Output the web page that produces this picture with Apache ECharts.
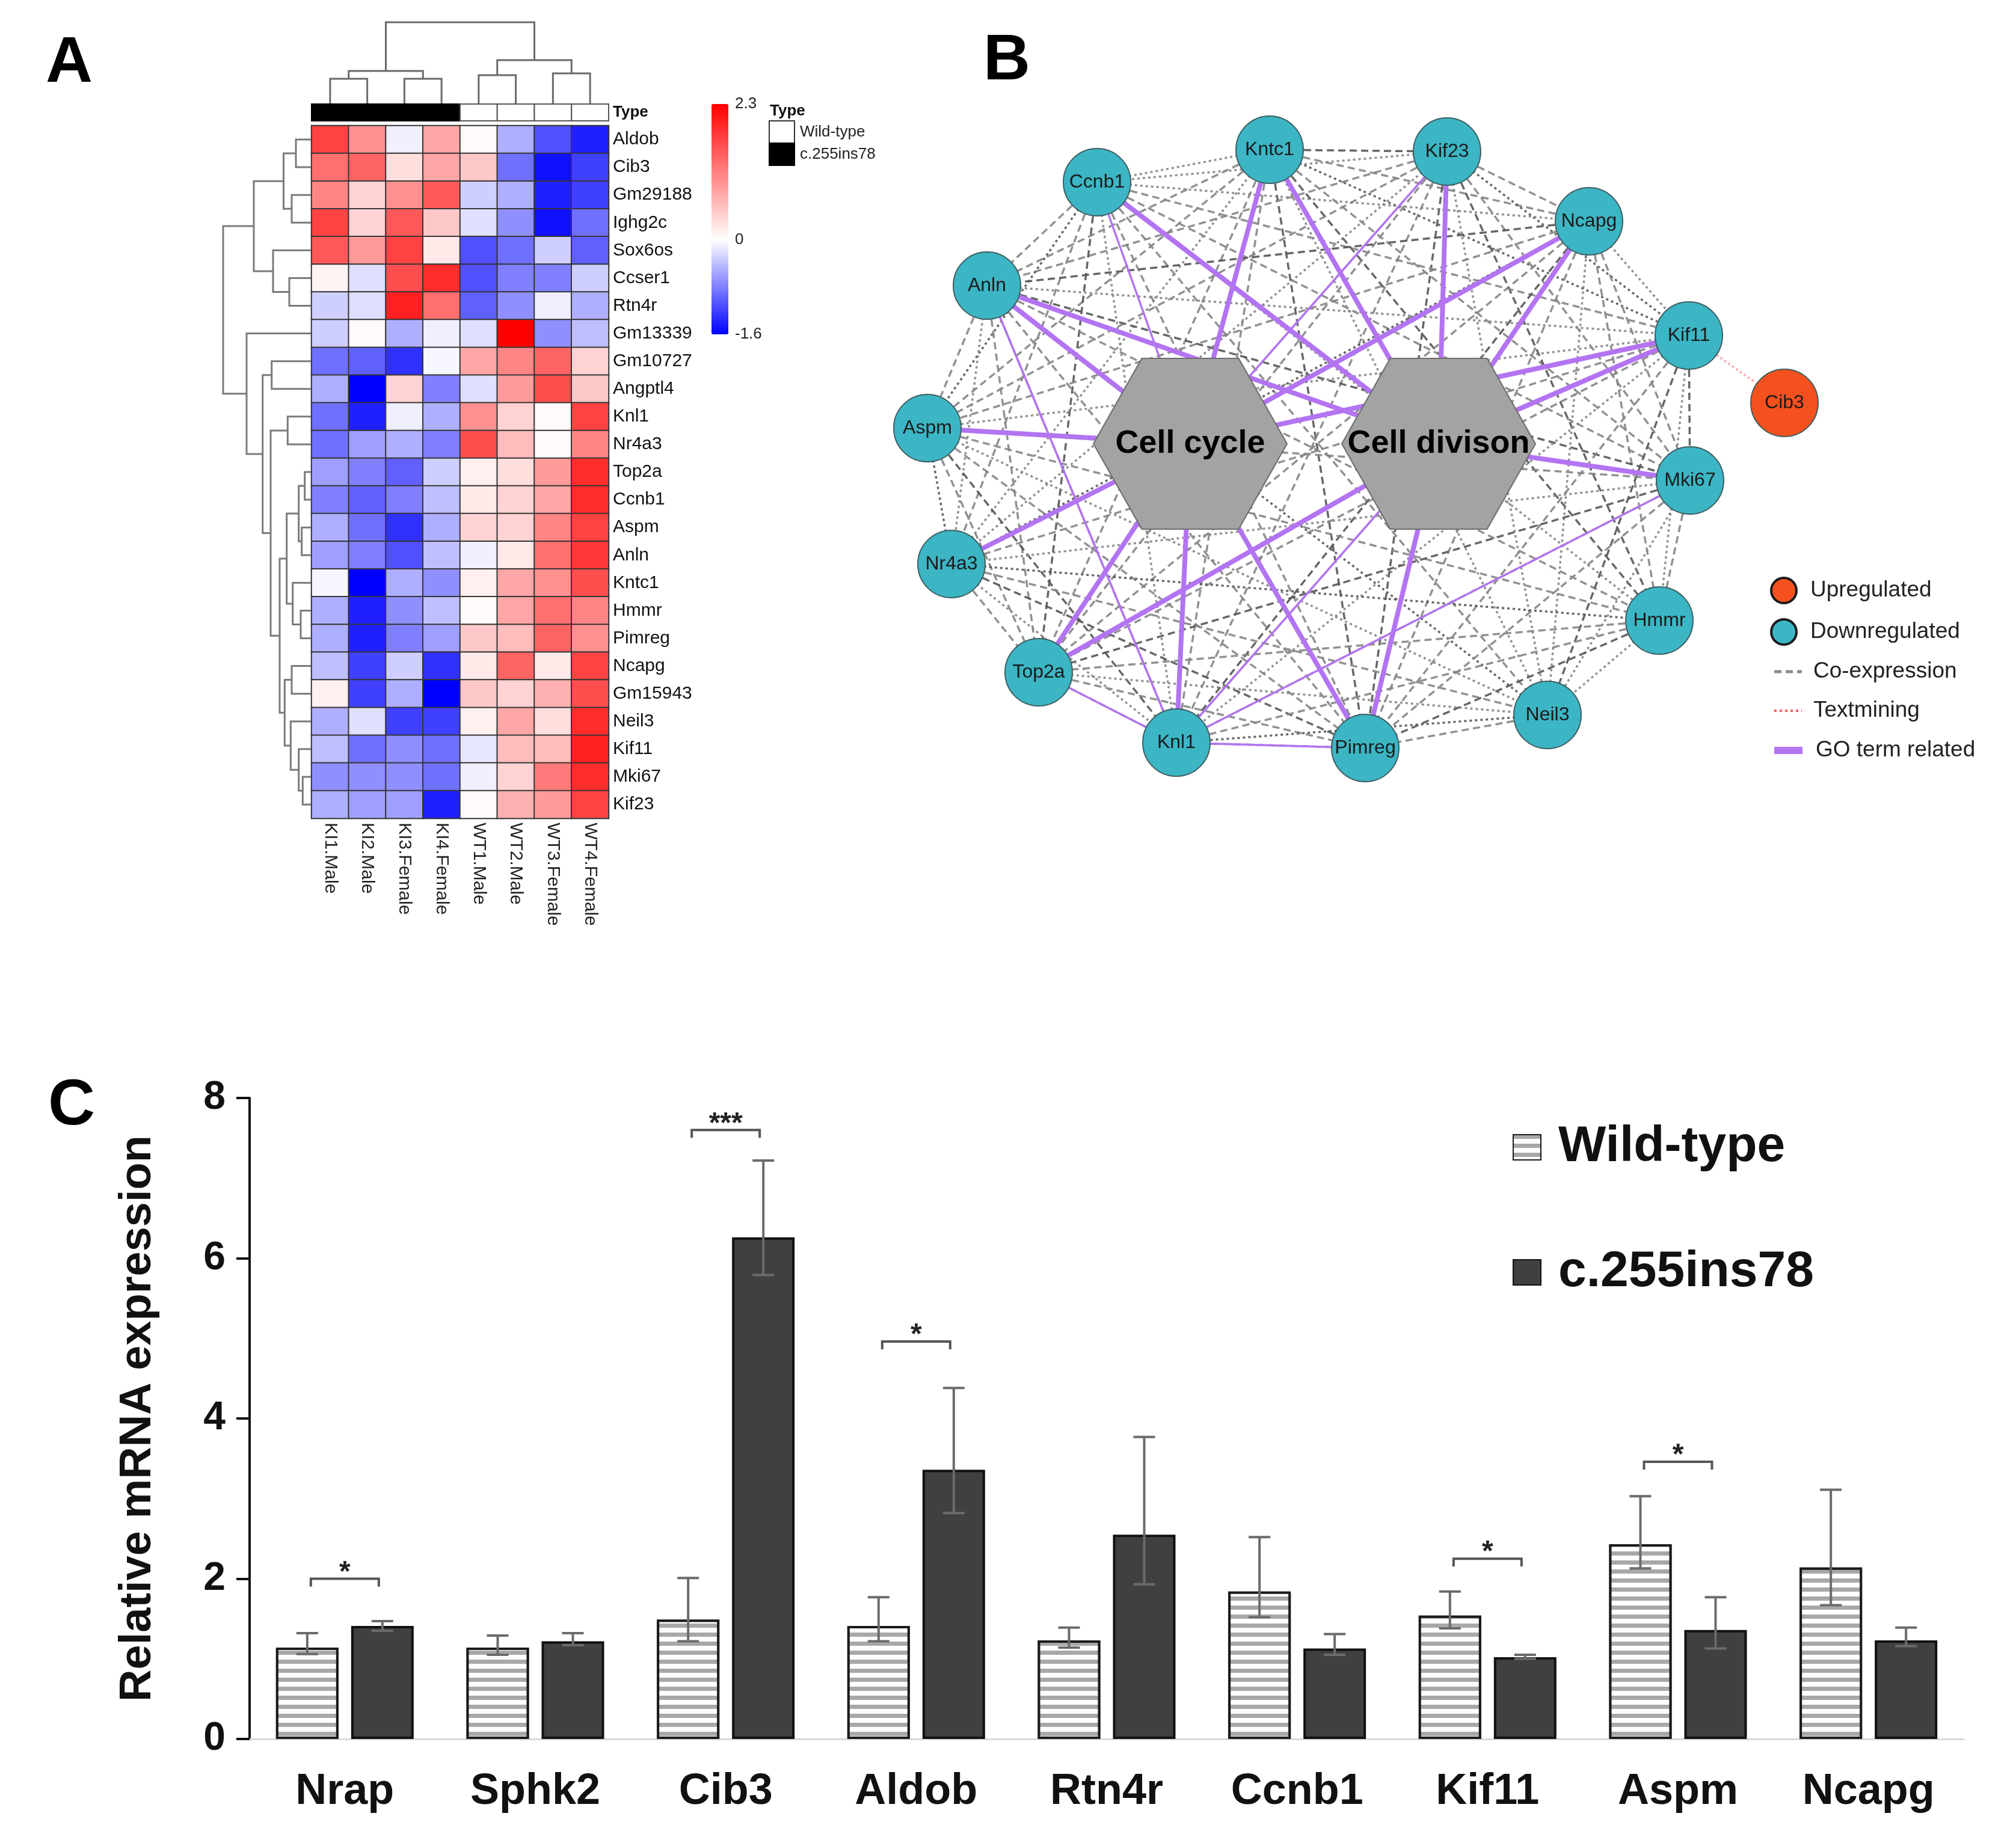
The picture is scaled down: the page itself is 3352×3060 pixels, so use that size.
<!DOCTYPE html>
<html><head><meta charset="utf-8">
<script src="https://cdn.jsdelivr.net/npm/echarts@6/dist/echarts.min.js"></script>
<style>html,body{margin:0;padding:0;background:#fff}#c{width:3352px;height:3060px}</style>
</head><body><div id="c"></div>
<script>
// ---------------- Panel A data ----------------
const samples = ['KI1.Male','KI2.Male','KI3.Female','KI4.Female','WT1.Male','WT2.Male','WT3.Female','WT4.Female'];
const sampleType = ['c.255ins78','c.255ins78','c.255ins78','c.255ins78','Wild-type','Wild-type','Wild-type','Wild-type'];
const genes = ['Aldob','Cib3','Gm29188','Ighg2c','Sox6os','Ccser1','Rtn4r','Gm13339','Gm10727','Angptl4','Knl1','Nr4a3',
  'Top2a','Ccnb1','Aspm','Anln','Kntc1','Hmmr','Pimreg','Ncapg','Gm15943','Neil3','Kif11','Mki67','Kif23'];
const zscores = [
  [ 1.7, 1.0,-0.1, 0.8, 0.05,-0.5,-1.1,-1.4],
  [ 1.3, 1.4, 0.3, 0.8, 0.5,-0.9,-1.5,-1.2],
  [ 1.1, 0.4, 1.0, 1.5,-0.3,-0.5,-1.4,-1.2],
  [ 1.7, 0.4, 1.5, 0.5,-0.2,-0.7,-1.5,-0.9],
  [ 1.5, 0.9, 1.7, 0.2,-1.1,-0.9,-0.3,-1.0],
  [ 0.1,-0.2, 1.6, 1.9,-1.1,-0.8,-0.8,-0.3],
  [-0.3,-0.2, 2.0, 1.3,-1.0,-0.7,-0.1,-0.5],
  [-0.3, 0.05,-0.5,-0.1,-0.2, 2.3,-0.7,-0.4],
  [-0.9,-1.0,-1.3,-0.05, 0.8, 1.1, 1.4, 0.4],
  [-0.5,-1.6, 0.4,-0.8,-0.2, 0.9, 1.6, 0.5],
  [-0.9,-1.4,-0.1,-0.5, 1.0, 0.4, 0.05, 1.7],
  [-0.9,-0.6,-0.5,-0.8, 1.6, 0.6, 0.05, 1.1],
  [-0.6,-0.8,-1.0,-0.3, 0.15, 0.3, 0.9, 1.9],
  [-0.8,-1.0,-0.8,-0.4, 0.2, 0.4, 0.8, 1.9],
  [-0.5,-0.9,-1.3,-0.5, 0.4, 0.4, 1.1, 1.7],
  [-0.6,-0.8,-1.1,-0.4,-0.1, 0.2, 1.3, 1.8],
  [-0.05,-1.6,-0.5,-0.7, 0.15, 0.8, 1.0, 1.6],
  [-0.5,-1.4,-0.7,-0.4, 0.05, 0.8, 1.3, 1.1],
  [-0.5,-1.4,-0.8,-0.6, 0.5, 0.6, 1.4, 1.0],
  [-0.4,-1.2,-0.3,-1.3, 0.2, 1.4, 0.2, 1.7],
  [ 0.15,-1.2,-0.5,-1.6, 0.5, 0.4, 0.7, 1.6],
  [-0.5,-0.2,-1.2,-1.2, 0.15, 0.8, 0.3, 1.9],
  [-0.4,-0.9,-0.7,-0.9,-0.15, 0.6, 0.6, 2.0],
  [-0.7,-0.7,-0.7,-0.9,-0.1, 0.4, 1.2, 1.9],
  [-0.5,-0.6,-0.6,-1.4, 0.05, 0.7, 0.9, 1.7]
];
const zMin = -1.6, zMax = 2.3;
const colorbarTicks = [2.3, 0, -1.6];
// dendrogram merges: [childA, childB, height]; ids < n are leaves, n+k is k-th merge
const colMerges = [[0,1,41],[2,3,41],[8,9,54],[4,5,47],[6,7,50],[11,12,72],[10,13,135]];
const rowMerges = [
  [0,1,25],[2,3,32],[25,26,45.5],[5,6,36],[4,28,63],[27,29,95],
  [12,13,10.3],[14,15,15.3],[31,32,20.3],[17,18,17],[16,34,30.3],[33,35,40.3],
  [19,20,32],[23,24,13.7],[22,38,20.3],[21,39,33.7],[37,40,43.7],[36,41,52],
  [10,11,38.7],[43,42,67],[8,9,65.3],[45,44,80.3],[7,46,107],[30,47,146]
];

// ---------------- Panel B data ----------------
const netNames = ['Kntc1','Kif23','Ccnb1','Ncapg','Anln','Kif11','Cib3','Aspm','Mki67','Nr4a3','Hmmr','Top2a','Neil3','Knl1','Pimreg','Cell cycle','Cell divison'];
const netKind  = ['down','down','down','down','down','down','up','down','down','down','down','down','down','down','down','term','term'];
const netX = [631,926,344,1162,161,1328,1487,62,1330,102,1279,247,1093,476,790,499,912];
const netY = [99,102,153,218,325,408,520,562,649,788,882,968,1039,1085,1094,588,588];
// GO-term related links: [source, target, strength]
const goLinks = [
  ['Aspm','Cell cycle',2],['Anln','Cell cycle',2],['Anln','Cell divison',2],['Ccnb1','Cell cycle',1],['Ccnb1','Cell divison',2],
  ['Kntc1','Cell cycle',2],['Kntc1','Cell divison',2],['Kif23','Cell cycle',1],['Kif23','Cell divison',2],
  ['Ncapg','Cell cycle',2],['Ncapg','Cell divison',2],['Kif11','Cell cycle',2],['Kif11','Cell divison',2],
  ['Mki67','Cell divison',2],['Nr4a3','Cell cycle',2],['Top2a','Cell cycle',2],['Top2a','Cell divison',2],
  ['Knl1','Cell cycle',2],['Knl1','Cell divison',1],['Pimreg','Cell cycle',2],['Pimreg','Cell divison',2],
  ['Anln','Knl1',1],['Top2a','Knl1',1],['Knl1','Pimreg',1],['Knl1','Mki67',1]
];
const textminingLinks = [['Kif11','Cib3']];

// ---------------- Panel C data ----------------
const qpcrGenes = ['Nrap','Sphk2','Cib3','Aldob','Rtn4r','Ccnb1','Kif11','Aspm','Ncapg'];
const wtMean  = [1.14,1.14,1.49,1.41,1.23,1.84,1.54,2.43,2.14];
const wtUpper = [1.32,1.29,2.01,1.77,1.39,2.52,1.84,3.03,3.11];
const wtLower = [1.06,1.05,1.22,1.22,1.14,1.52,1.38,2.13,1.67];
const kiMean  = [1.41,1.22,6.26,3.36,2.55,1.13,1.02,1.36,1.23];
const kiUpper = [1.47,1.32,7.22,4.38,3.77,1.31,1.05,1.77,1.39];
const kiLower = [1.35,1.17,5.79,2.82,1.93,1.05,1.00,1.13,1.16];
const sigGenes = ['Nrap','Cib3','Aldob','Kif11','Aspm'];
const sigLevel = [2.0,7.6,4.96,2.25,3.46];
const sigMark  = ['*','***','*','*','*'];
const yTicksC = {min:0, max:8, interval:2};

// ---------------- build ----------------
const FONT = 'Liberation Sans, Arial, Helvetica, sans-serif';
const BAR_W = 104, BAR_GAP = 21;

function ramp(){
  const cols = [];
  const steps = Math.round((zMax - zMin) / 0.1);
  for (let k = 0; k <= steps; k++) {
    const v = zMin + k * 0.1;
    let r, g, b;
    if (v < 0) { const t = Math.min(1, v / zMin); r = g = Math.round(255 * (1 - t)); b = 255; }
    else { const t = Math.min(1, v / zMax); r = 255; g = b = Math.round(255 * (1 - t)); }
    cols.push('rgb(' + r + ',' + g + ',' + b + ')');
  }
  return cols;
}
function dendro(merges, n){
  const pos = [], ht = [];
  for (let i = 0; i < n; i++) { pos[i] = i + 0.5; ht[i] = 0; }
  merges.forEach((m, k) => { const id = n + k; pos[id] = (pos[m[0]] + pos[m[1]]) / 2; ht[id] = m[2]; });
  return merges.map(m => [pos[m[0]], ht[m[0]], pos[m[1]], ht[m[1]], m[2]]);
}

const heatData = [];
zscores.forEach((row, gi) => row.forEach((v, si) => heatData.push([si, gi, v])));

const colDen = dendro(colMerges, samples.length);
const rowDen = dendro(rowMerges, genes.length);

const teal = '#3cb5c4', orange = '#f4511e', purple = '#b374f2';
const hexPath = 'path://M25,0 L75,0 L100,50 L75,100 L25,100 L0,50 Z';
const netNodes = netNames.map((nm, i) => {
  const k = netKind[i];
  if (k === 'term') {
    return {name: nm, value: [netX[i], netY[i]], symbol: hexPath, symbolSize: [322, 284],
      itemStyle: {color: '#a3a3a3', borderColor: '#6e6e6e', borderWidth: 2},
      label: {fontSize: 54, fontWeight: 900, color: '#000'}};
  }
  return {name: nm, value: [netX[i], netY[i]], symbol: 'circle', symbolSize: 112,
    itemStyle: {color: k === 'up' ? orange : teal, borderColor: '#3d5e62', borderWidth: 2},
    label: {fontSize: 32, color: '#1a1a1a'}};
});
const downGenes = netNames.filter((n, i) => netKind[i] === 'down');
const netLinks = [];
let e = 0;
for (let a = 0; a < downGenes.length; a++) {
  for (let b = a + 1; b < downGenes.length; b++) {
    const dotted = (e % 3) === 1;
    netLinks.push({source: downGenes[a], target: downGenes[b],
      lineStyle: {color: (e % 4 === 0) ? '#555555' : '#858585', width: 3.5, type: dotted ? [4, 5] : [12, 7], opacity: 0.9}});
    e++;
  }
}
textminingLinks.forEach(l => netLinks.push({source: l[0], target: l[1], lineStyle: {color: '#f07070', width: 4, type: [4, 4]}}));
goLinks.forEach(l => netLinks.push({source: l[0], target: l[1], lineStyle: {color: purple, width: l[2] === 2 ? 8 : 3.5, type: 'solid', opacity: 1}}));

const errData = [];
qpcrGenes.forEach((g, i) => {
  errData.push([i, wtLower[i], wtUpper[i], -1]);
  errData.push([i, kiLower[i], kiUpper[i], 1]);
});
const sigData = sigGenes.map((g, k) => [qpcrGenes.indexOf(g), sigLevel[k], k]);

const hidden = {show: false};
const option = {
  animation: false,
  backgroundColor: '#fff',
  textStyle: {fontFamily: FONT},
  grid: [
    {left: 518, top: 209, width: 494, height: 1152},   // 0 heatmap
    {left: 518, top: 173, width: 494, height: 28},     // 1 annotation
    {left: 518, top: 37, width: 494, height: 135},     // 2 col dendrogram
    {left: 371, top: 209, width: 146, height: 1152},   // 3 row dendrogram
    {left: 1200, top: 173, width: 11, height: 383},    // 4 colorbar ticks
    {left: 1480, top: 150, width: 1600, height: 1200}, // 5 network
    {left: 415, top: 1826, width: 2850, height: 1066}  // 6 bars
  ],
  xAxis: [
    {gridIndex: 0, type: 'category', data: samples, position: 'bottom',
      axisLine: hidden, axisTick: hidden, splitLine: hidden,
      axisLabel: {rotate: -90, fontSize: 30, color: '#222', margin: 7, interval: 0}},
    {gridIndex: 1, type: 'category', data: samples, show: false},
    {gridIndex: 2, type: 'value', min: 0, max: samples.length, show: false},
    {gridIndex: 3, type: 'value', min: 0, max: 146, inverse: true, show: false},
    {gridIndex: 4, type: 'value', show: false},
    {gridIndex: 5, type: 'value', min: 0, max: 1600, show: false},
    {gridIndex: 6, type: 'category', data: qpcrGenes,
      axisLine: {show: true, lineStyle: {color: '#d9d9d9', width: 3}}, axisTick: hidden,
      axisLabel: {fontSize: 72, fontWeight: 'bold', color: '#111', margin: 52, interval: 0}}
  ],
  yAxis: [
    {gridIndex: 0, type: 'category', data: genes, inverse: true, position: 'right',
      axisLine: hidden, axisTick: hidden, splitLine: hidden,
      axisLabel: {fontSize: 30, color: '#111', margin: 7, interval: 0}},
    {gridIndex: 1, type: 'category', data: ['Type'], position: 'right',
      axisLine: hidden, axisTick: hidden,
      axisLabel: {fontSize: 26, fontWeight: 'bold', color: '#111', margin: 7}},
    {gridIndex: 2, type: 'value', min: 0, max: 135, show: false},
    {gridIndex: 3, type: 'value', min: 0, max: genes.length, inverse: true, show: false},
    {gridIndex: 4, type: 'value', min: zMin, max: zMax, position: 'right',
      axisLine: hidden, splitLine: hidden,
      axisTick: {show: false, customValues: colorbarTicks},
      axisLabel: {fontSize: 26, color: '#222', margin: 11, customValues: colorbarTicks, formatter: v => String(v)}},
    {gridIndex: 5, type: 'value', min: 0, max: 1200, inverse: true, show: false},
    {gridIndex: 6, type: 'value', min: yTicksC.min, max: yTicksC.max, interval: yTicksC.interval,
      name: 'Relative mRNA expression', nameLocation: 'middle', nameGap: 148, nameRotate: 90,
      nameTextStyle: {fontSize: 74, fontWeight: 'bold', color: '#111'},
      axisLine: {show: true, lineStyle: {color: '#111', width: 4}},
      axisTick: {show: true, length: 22, lineStyle: {color: '#111', width: 4}},
      splitLine: hidden,
      axisLabel: {fontSize: 66, fontWeight: 'bold', color: '#111', margin: 40}}
  ],
  visualMap: [{
    type: 'continuous', seriesIndex: 0, dimension: 2, min: zMin, max: zMax,
    calculable: false, left: 1183, top: 173, itemWidth: 28, itemHeight: 383, padding: 0,
    inRange: {color: ramp()}, textStyle: {fontSize: 1, color: 'rgba(0,0,0,0)'}
  }],
  legend: {
    data: ['Wild-type', 'c.255ins78'], orient: 'vertical', left: 2515, top: 1864,
    itemWidth: 46, itemHeight: 42, itemGap: 120, padding: 0, icon: 'rect', selectedMode: false,
    textStyle: {fontSize: 84, fontWeight: 'bold', color: '#111', lineHeight: 88, padding: [0, 0, 0, 24]}
  },
  graphic: [
    {type: 'text', left: 76, top: 52, style: {text: 'A', font: 'bold 108px ' + FONT, fill: '#000'}},
    {type: 'text', left: 1635, top: 48, style: {text: 'B', font: 'bold 108px ' + FONT, fill: '#000'}},
    {type: 'text', left: 80, top: 1786, style: {text: 'C', font: 'bold 108px ' + FONT, fill: '#000'}},
    // heatmap Type legend
    {type: 'text', x: 1280, y: 185, style: {text: 'Type', font: 'bold 26px ' + FONT, fill: '#111', textVerticalAlign: 'middle'}},
    {type: 'rect', shape: {x: 1279, y: 201, width: 42, height: 37}, style: {fill: '#fff', stroke: '#333', lineWidth: 2}},
    {type: 'rect', shape: {x: 1279, y: 238, width: 42, height: 37}, style: {fill: '#000', stroke: '#000', lineWidth: 2}},
    {type: 'text', x: 1330, y: 220, style: {text: sampleType[4], font: '26px ' + FONT, fill: '#222', textVerticalAlign: 'middle'}},
    {type: 'text', x: 1330, y: 257, style: {text: sampleType[0], font: '26px ' + FONT, fill: '#222', textVerticalAlign: 'middle'}},
    // network legend
    {type: 'circle', shape: {cx: 2966, cy: 982, r: 21}, style: {fill: orange, stroke: '#1a1a1a', lineWidth: 4}},
    {type: 'circle', shape: {cx: 2966, cy: 1051, r: 21}, style: {fill: teal, stroke: '#1a1a1a', lineWidth: 4}},
    {type: 'line', shape: {x1: 2950, y1: 1117, x2: 2996, y2: 1117}, style: {stroke: '#8a8a8a', lineWidth: 5, lineDash: [12, 7]}},
    {type: 'line', shape: {x1: 2950, y1: 1182, x2: 2996, y2: 1182}, style: {stroke: '#f06060', lineWidth: 4, lineDash: [4, 5]}},
    {type: 'line', shape: {x1: 2950, y1: 1248, x2: 2997, y2: 1248}, style: {stroke: purple, lineWidth: 12}},
    {type: 'text', x: 3010, y: 982, style: {text: 'Upregulated', font: '37px ' + FONT, fill: '#222', textVerticalAlign: 'middle'}},
    {type: 'text', x: 3010, y: 1051, style: {text: 'Downregulated', font: '37px ' + FONT, fill: '#222', textVerticalAlign: 'middle'}},
    {type: 'text', x: 3015, y: 1117, style: {text: 'Co-expression', font: '37px ' + FONT, fill: '#222', textVerticalAlign: 'middle'}},
    {type: 'text', x: 3015, y: 1182, style: {text: 'Textmining', font: '37px ' + FONT, fill: '#222', textVerticalAlign: 'middle'}},
    {type: 'text', x: 3019, y: 1248, style: {text: 'GO term related', font: '37px ' + FONT, fill: '#222', textVerticalAlign: 'middle'}}
  ],
  series: [
    {type: 'heatmap', xAxisIndex: 0, yAxisIndex: 0, data: heatData,
      itemStyle: {borderColor: '#353535', borderWidth: 2}, emphasis: {disabled: true}},
    {type: 'custom', xAxisIndex: 1, yAxisIndex: 1,
      data: sampleType.map((t, i) => [i, 0, t === 'c.255ins78' ? 1 : 0]),
      renderItem: (p, api) => {
        const c = api.coord([api.value(0), api.value(1)]);
        const s = api.size([1, 1]);
        const ki = api.value(2) === 1;
        return {type: 'rect', shape: {x: c[0] - s[0] / 2, y: c[1] - s[1] / 2, width: s[0], height: s[1]},
          style: {fill: ki ? '#000' : '#fff', stroke: ki ? '#000' : '#555', lineWidth: 2}};
      }},
    {type: 'custom', xAxisIndex: 2, yAxisIndex: 2, data: colDen,
      renderItem: (p, api) => {
        const a = api.coord([api.value(0), api.value(1)]), a2 = api.coord([api.value(0), api.value(4)]);
        const b2 = api.coord([api.value(2), api.value(4)]), b = api.coord([api.value(2), api.value(3)]);
        return {type: 'polyline', shape: {points: [a, a2, b2, b]}, style: {stroke: '#6a6a6a', lineWidth: 3, fill: null}};
      }},
    {type: 'custom', xAxisIndex: 3, yAxisIndex: 3, data: rowDen,
      renderItem: (p, api) => {
        const a = api.coord([api.value(1), api.value(0)]), a2 = api.coord([api.value(4), api.value(0)]);
        const b2 = api.coord([api.value(4), api.value(2)]), b = api.coord([api.value(3), api.value(2)]);
        return {type: 'polyline', shape: {points: [a, a2, b2, b]}, style: {stroke: '#7a7a7a', lineWidth: 3, fill: null}};
      }},
    {type: 'graph', coordinateSystem: 'cartesian2d', xAxisIndex: 5, yAxisIndex: 5,
      data: netNodes, links: netLinks, roam: false, edgeSymbol: ['none', 'none'],
      label: {show: true, position: 'inside', fontFamily: FONT},
      emphasis: {disabled: true}, z: 3},
    {type: 'bar', name: 'Wild-type', xAxisIndex: 6, yAxisIndex: 6, data: wtMean, barWidth: BAR_W, barGap: (BAR_GAP / BAR_W * 100) + '%',
      itemStyle: {color: '#fff', borderColor: '#1a1a1a', borderWidth: 4,
        decal: {symbol: 'rect', symbolSize: 1, dashArrayX: [1, 0], dashArrayY: [7, 8], rotation: 0, color: '#a8a8a8', backgroundColor: '#fff'}},
      emphasis: {disabled: true}},
    {type: 'bar', name: 'c.255ins78', xAxisIndex: 6, yAxisIndex: 6, data: kiMean, barWidth: BAR_W,
      itemStyle: {color: '#404040', borderColor: '#111', borderWidth: 4}, emphasis: {disabled: true}},
    {type: 'custom', xAxisIndex: 6, yAxisIndex: 6, data: errData, z: 5,
      renderItem: (p, api) => {
        const off = (BAR_W + BAR_GAP) / 2 * api.value(3);
        const lo = api.coord([api.value(0), api.value(1)]), hi = api.coord([api.value(0), api.value(2)]);
        const x = lo[0] + off, cap = 18;
        const st = {stroke: '#6b6b6b', lineWidth: 4};
        return {type: 'group', children: [
          {type: 'line', shape: {x1: x, y1: lo[1], x2: x, y2: hi[1]}, style: st},
          {type: 'line', shape: {x1: x - cap, y1: hi[1], x2: x + cap, y2: hi[1]}, style: st},
          {type: 'line', shape: {x1: x - cap, y1: lo[1], x2: x + cap, y2: lo[1]}, style: st}
        ]};
      }},
    {type: 'custom', xAxisIndex: 6, yAxisIndex: 6, data: sigData, z: 5,
      renderItem: (p, api) => {
        const c = api.coord([api.value(0), api.value(1)]);
        const off = (BAR_W + BAR_GAP) / 2 - 6;
        const xl = c[0] - off, xr = c[0] + off, y = c[1];
        return {type: 'group', children: [
          {type: 'polyline', shape: {points: [[xl, y + 13], [xl, y], [xr, y], [xr, y + 13]]}, style: {stroke: '#555', lineWidth: 4, fill: null}},
          {type: 'text', x: c[0], y: y - 10, style: {text: sigMark[api.value(2)], font: 'bold 48px ' + FONT, fill: '#222', textAlign: 'center', textVerticalAlign: 'middle'}}
        ]};
      }}
  ]
};
const chart = echarts.init(document.getElementById('c'), null, {renderer: 'canvas', width: 3352, height: 3060});
chart.setOption(option);
</script>
</body></html>
